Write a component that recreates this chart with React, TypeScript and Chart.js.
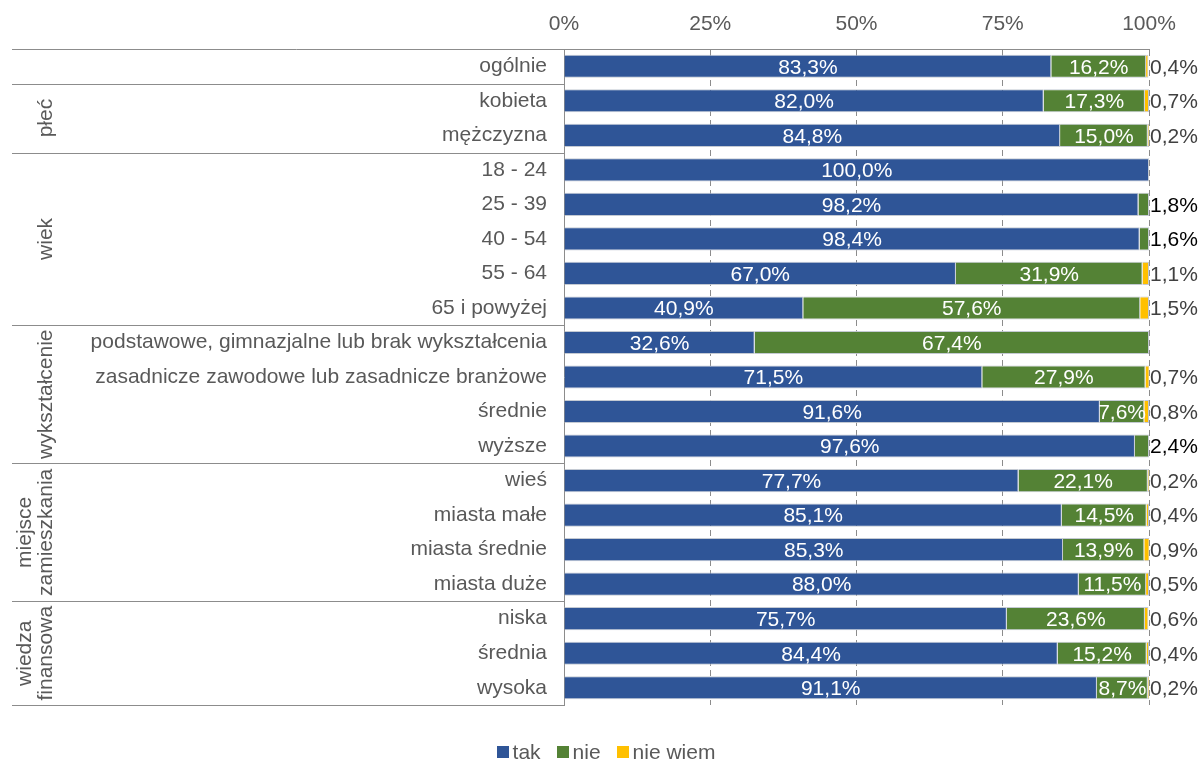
import React, { useEffect, useRef } from 'react';
import { Chart, registerables } from 'chart.js';

Chart.register(...registerables);

const categories = [
  'ogólnie',
  'kobieta',
  'mężczyzna',
  '18 - 24',
  '25 - 39',
  '40 - 54',
  '55 - 64',
  '65 i powyżej',
  'podstawowe, gimnazjalne lub brak wykształcenia',
  'zasadnicze zawodowe lub zasadnicze branżowe',
  'średnie',
  'wyższe',
  'wieś',
  'miasta małe',
  'miasta średnie',
  'miasta duże',
  'niska',
  'średnia',
  'wysoka',
];
const takValues = [83.3, 82.0, 84.8, 100.0, 98.2, 98.4, 67.0, 40.9, 32.6, 71.5, 91.6, 97.6, 77.7, 85.1, 85.3, 88.0, 75.7, 84.4, 91.1];
const nieValues = [16.2, 17.3, 15.0, 0, 1.8, 1.6, 31.9, 57.6, 67.4, 27.9, 7.6, 2.4, 22.1, 14.5, 13.9, 11.5, 23.6, 15.2, 8.7];
const nieWiemValues = [0.4, 0.7, 0.2, 0, 0, 0, 1.1, 1.5, 0, 0.7, 0.8, 0, 0.2, 0.4, 0.9, 0.5, 0.6, 0.4, 0.2];
const seriesNames = ['tak', 'nie', 'nie wiem'];
const seriesColors = ['#2F5597', '#548235', '#FFC000'];
const groupNames = [[''], ['płeć'], ['wiek'], ['wykształcenie'], ['miejsce', 'zamieszkania'], ['wiedza', 'finansowa']];
const groupStarts = [0, 1, 3, 8, 12, 16];
const groupSizes = [1, 2, 5, 4, 4, 3];

const FONT_FAMILY = '"Liberation Sans", Arial, sans-serif';
const FONT = '21px ' + FONT_FAMILY;
const GRAY_TEXT = '#595959';
const LINE_GRAY = '#8C8C8C';

const fmt = (v: number) => v.toFixed(1).replace('.', ',') + '%';

const decorPlugin = {
  id: 'decor',
  afterDatasetsDraw(chart: any) {
    const ctx = chart.ctx as CanvasRenderingContext2D;
    const area = chart.chartArea;
    const yScale = chart.scales.y;
    const n = categories.length;

    // data labels
    ctx.save();
    ctx.font = FONT;
    ctx.textBaseline = 'middle';
    chart.data.datasets.forEach((ds: any, di: number) => {
      const meta = chart.getDatasetMeta(di);
      meta.data.forEach((el: any, i: number) => {
        const v = ds.data[i];
        if (!v) return;
        const text = fmt(v);
        if (di < 2 && v >= 5) {
          ctx.fillStyle = '#FFFFFF';
          ctx.textAlign = 'center';
          ctx.fillText(text, (el.x + el.base) / 2, el.y + 1.5);
        } else {
          ctx.fillStyle = di === 1 ? '#000000' : '#404040';
          ctx.textAlign = 'left';
          ctx.fillText(text, area.right + 1, el.y + 1.5);
        }
      });
    });
    ctx.restore();

    // row boundaries
    const bound = (k: number) => {
      if (k <= 0) return area.top;
      if (k >= n) return area.bottom;
      return (yScale.getPixelForValue(k - 1) + yScale.getPixelForValue(k)) / 2;
    };

    ctx.save();
    ctx.strokeStyle = LINE_GRAY;
    ctx.lineWidth = 1;
    const hline = (yy: number, x1: number, x2: number) => {
      const py = Math.round(yy) + 0.5;
      ctx.beginPath();
      ctx.moveTo(x1, py);
      ctx.lineTo(x2, py);
      ctx.stroke();
    };
    hline(area.top, 12, area.right);
    groupStarts.forEach((s, g) => {
      if (g > 0) hline(bound(s), 12, area.left);
    });
    hline(area.bottom, 12, area.left);
    ctx.restore();

    // group labels
    ctx.save();
    ctx.font = FONT;
    ctx.fillStyle = GRAY_TEXT;
    ctx.textAlign = 'center';
    ctx.textBaseline = 'middle';
    groupNames.forEach((lines, g) => {
      const yc = (bound(groupStarts[g]) + bound(groupStarts[g] + groupSizes[g])) / 2;
      const xs = lines.length === 1 ? [46] : [25, 46];
      lines.forEach((t, li) => {
        if (!t) return;
        ctx.save();
        ctx.translate(xs[li], yc);
        ctx.rotate(-Math.PI / 2);
        ctx.fillText(t, 0, 0);
        ctx.restore();
      });
    });
    ctx.restore();
  },
  afterDraw(chart: any) {
    const ctx = chart.ctx as CanvasRenderingContext2D;
    ctx.save();
    ctx.font = FONT;
    ctx.textBaseline = 'middle';
    ctx.textAlign = 'left';
    const box = 12;
    const gapText = 4;
    const gapItem = 16;
    const widths = seriesNames.map((s) => ctx.measureText(s).width);
    const total = widths.reduce((a, w) => a + box + gapText + w, 0) + gapItem * (seriesNames.length - 1);
    let x = 606 - total / 2;
    const yc = 752;
    seriesNames.forEach((s, i) => {
      ctx.fillStyle = seriesColors[i];
      ctx.fillRect(Math.round(x), yc - box / 2, box, box);
      ctx.fillStyle = GRAY_TEXT;
      ctx.fillText(s, x + box + gapText, yc + 1);
      x += box + gapText + widths[i] + gapItem;
    });
    ctx.restore();
  },
};

export default function App() {
  const canvasRef = useRef<HTMLCanvasElement | null>(null);

  useEffect(() => {
    document.body.style.margin = '0';
    const canvas = canvasRef.current;
    if (!canvas) return;
    Chart.defaults.font.family = FONT_FAMILY;
    const valueSets = [takValues, nieValues, nieWiemValues];
    const chart = new Chart(canvas, {
      type: 'bar',
      data: {
        labels: categories,
        datasets: seriesNames.map((name, i) => ({
          label: name,
          data: valueSets[i],
          backgroundColor: seriesColors[i],
          borderColor: 'rgba(190,196,206,0.9)',
          borderWidth: 1,
          barPercentage: 0.67,
          categoryPercentage: 1,
        })),
      },
      options: {
        indexAxis: 'y',
        responsive: false,
        animation: false,
        devicePixelRatio: 1,
        layout: { padding: { left: 0, right: 51, top: 0, bottom: 55 } },
        plugins: {
          legend: { display: false },
          tooltip: { enabled: false },
        },
        scales: {
          x: {
            position: 'top',
            stacked: true,
            min: 0,
            max: 100,
            afterFit: (scale: any) => {
              scale.height = 49;
            },
            ticks: {
              stepSize: 25,
              padding: 12,
              color: GRAY_TEXT,
              font: { size: 21, family: FONT_FAMILY },
              callback: (v: any) => v + '%',
            },
            grid: {
              drawTicks: false,
              color: (c: any) => (c.tick && c.tick.value === 0 ? 'rgba(0,0,0,0)' : LINE_GRAY),
              lineWidth: 1,
            },
            border: { display: true, color: LINE_GRAY, width: 1, dash: [6, 4] },
          },
          y: {
            stacked: true,
            afterFit: (scale: any) => {
              scale.width = 564;
            },
            ticks: {
              padding: 17,
              color: GRAY_TEXT,
              font: { size: 21, family: FONT_FAMILY },
              autoSkip: false,
            },
            grid: { display: false, drawTicks: false },
            border: { display: true, color: LINE_GRAY, width: 1 },
          },
        },
      } as any,
      plugins: [decorPlugin],
    });
    return () => chart.destroy();
  }, []);

  return (
    <div style={{ width: 1200, height: 760 }}>
      <canvas ref={canvasRef} width={1200} height={760} style={{ display: 'block' }} />
    </div>
  );
}
